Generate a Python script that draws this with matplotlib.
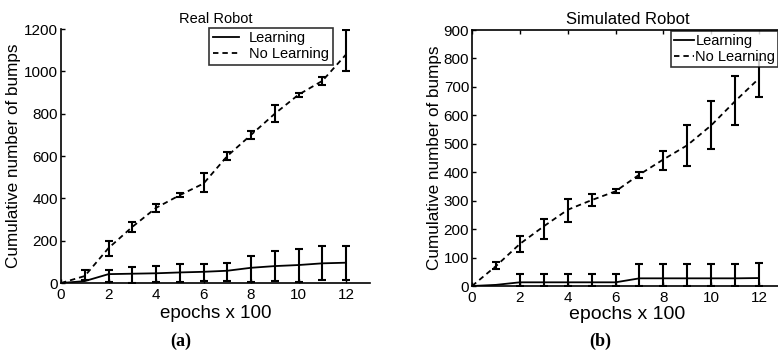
import numpy as np
import matplotlib
matplotlib.use('Agg')
import matplotlib.pyplot as plt

plt.rcParams['font.family'] = ['Liberation Sans', 'DejaVu Sans']

# epochs (x 100)
epochs = np.arange(0, 13)

# Real robot: cumulative bumps, mean with lower / upper error limits
real_learn = [0, 9, 42, 44, 46, 50, 53, 58, 72, 80, 85, 93, 96]
real_learn_lo = [0, 0, 5, 0, 3, 3, 9, 11, 3, 11, 3, 14, 14]
real_learn_hi = [0, 9, 61, 77, 82, 88, 88, 96, 129, 150, 159, 176, 176]
real_nolearn = [0, 33, 165, 265, 355, 415, 470, 600, 700, 800, 890, 955, 1080]
real_nolearn_lo = [0, 15, 130, 240, 335, 405, 430, 580, 680, 760, 880, 935, 1003]
real_nolearn_hi = [0, 60, 200, 290, 375, 425, 520, 620, 720, 840, 900, 975, 1194]

# Simulated robot
sim_learn = [0, 4, 13, 13, 13, 13, 13, 27, 27, 27, 27, 27, 28]
sim_learn_lo = [0, 0, 0, 0, 0, 0, 0, 0, 0, 0, 0, 0, 0]
sim_learn_hi = [0, 4, 42, 42, 42, 42, 42, 77, 77, 77, 77, 77, 82]
sim_nolearn = [0, 70, 148, 210, 268, 302, 333, 392, 445, 495, 565, 650, 730]
sim_nolearn_lo = [0, 59, 118, 165, 226, 283, 326, 381, 408, 423, 482, 565, 666]
sim_nolearn_hi = [0, 84, 176, 237, 307, 322, 340, 402, 476, 566, 652, 740, 794]


def draw_series(ax, mean, lo, hi, style, label, start):
    mean = np.array(mean, dtype=float)
    lo = np.array(lo, dtype=float)
    hi = np.array(hi, dtype=float)
    if style == 'dashed':
        ax.plot(epochs, mean, color='black', lw=1.3, linestyle=(0, (3, 2.2)), label=label)
    else:
        ax.plot(epochs, mean, color='black', lw=1.3, label=label)
    s = slice(start, None)
    ax.errorbar(epochs[s], mean[s], yerr=[mean[s] - lo[s], hi[s] - mean[s]],
                fmt='none', ecolor='black', elinewidth=1.5, capsize=3, capthick=1.5,
                clip_on=True)


fig = plt.figure(figsize=(7.78, 3.56), dpi=100)

# (a) real robot
ax1 = fig.add_axes([0.0784, 0.205, 0.397, 0.7135])
draw_series(ax1, real_learn, real_learn_lo, real_learn_hi, 'solid', 'Learning', 2)
draw_series(ax1, real_nolearn, real_nolearn_lo, real_nolearn_hi, 'dashed', 'No Learning', 1)
ax1.set_xlim(0, 13)
ax1.set_ylim(0, 1200)
ax1.set_xticks(range(0, 13, 2))
ax1.set_yticks(range(0, 1201, 200))
ax1.spines['top'].set_visible(False)
ax1.spines['right'].set_visible(False)
ax1.set_title('Real Robot', fontsize=10.5, pad=4)
ax1.set_xlabel('epochs x 100', fontsize=13.5, labelpad=2)
ax1.set_ylabel('Cumulative number of bumps', fontsize=12.3, labelpad=2)
leg1 = ax1.legend(loc='upper right', bbox_to_anchor=(0.88, 1.005), fontsize=10.5,
                  frameon=True, fancybox=False, edgecolor='black', borderaxespad=0,
                  handlelength=1.8, handletextpad=0.7, borderpad=0.25, labelspacing=0.12)
leg1.get_frame().set_linewidth(1.2)

# (b) simulated robot
ax2 = fig.add_axes([0.6067, 0.1966, 0.3997, 0.719])
draw_series(ax2, sim_learn, sim_learn_lo, sim_learn_hi, 'solid', 'Learning', 2)
draw_series(ax2, sim_nolearn, sim_nolearn_lo, sim_nolearn_hi, 'dashed', 'No Learning', 1)
ax2.set_xlim(0, 13)
ax2.set_ylim(0, 900)
ax2.set_xticks(range(0, 13, 2))
ax2.set_yticks(range(0, 901, 100))
ax2.set_title('Simulated Robot', fontsize=12, pad=4)
ax2.set_xlabel('epochs x 100', fontsize=14, labelpad=1)
ax2.set_ylabel('Cumulative number of bumps', fontsize=12.3, labelpad=1)
leg2 = ax2.legend(loc='upper right', bbox_to_anchor=(0.985, 0.995), fontsize=10.5,
                  frameon=True, fancybox=False, edgecolor='black', borderaxespad=0,
                  handlelength=1.4, handletextpad=0.1, borderpad=0.2, labelspacing=0.12)
leg2.get_frame().set_linewidth(1.2)

for ax in (ax1, ax2):
    for sp in ax.spines.values():
        sp.set_linewidth(1.2)
    ax.tick_params(direction='in', length=3, width=1, labelsize=11, pad=2,
                   top=(ax is ax2), right=False)
    ax.tick_params(axis='x', pad=3.5)

fig.text(0.232, 0.028, '(a)', fontsize=13, fontweight='bold', ha='center',
         family='Liberation Serif')
fig.text(0.771, 0.028, '(b)', fontsize=13, fontweight='bold', ha='center',
         family='Liberation Serif')

fig.savefig('out.png', dpi=100)
